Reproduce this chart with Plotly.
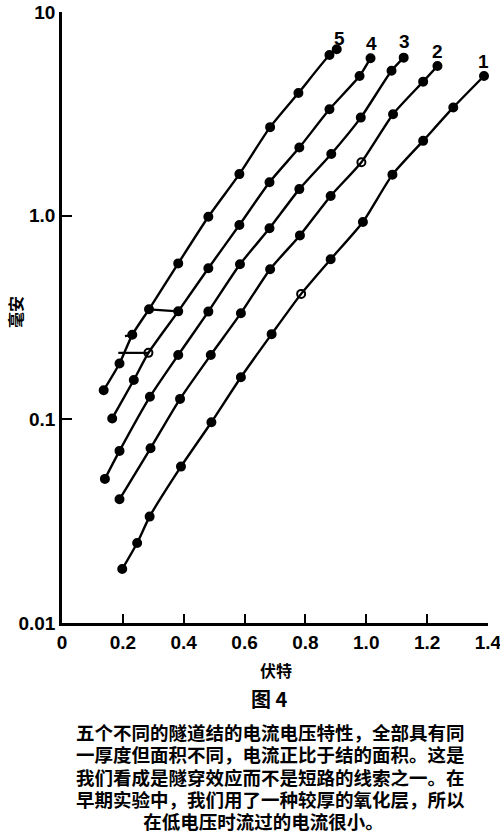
import math
import plotly.graph_objects as go

# ---- data (volts, milliamps) ----
v1 = [0.198, 0.247, 0.288, 0.391, 0.491, 0.588, 0.689, 0.786, 0.883, 0.989, 1.086, 1.187, 1.286, 1.387]
i1 = [0.0184, 0.0247, 0.0333, 0.0586, 0.0968, 0.161, 0.262, 0.413, 0.611, 0.931, 1.59, 2.33, 3.40, 4.85]

v2 = [0.189, 0.291, 0.388, 0.489, 0.588, 0.684, 0.782, 0.883, 0.984, 1.088, 1.187, 1.234]
i2 = [0.0405, 0.0721, 0.126, 0.207, 0.332, 0.546, 0.80, 1.25, 1.83, 3.15, 4.55, 5.43]

v3 = [0.141, 0.189, 0.289, 0.382, 0.481, 0.585, 0.682, 0.780, 0.885, 0.982, 1.083, 1.123]
i3 = [0.0510, 0.070, 0.129, 0.207, 0.338, 0.577, 0.867, 1.35, 2.01, 3.03, 5.15, 5.97]

v4 = [0.165, 0.236, 0.284, 0.382, 0.481, 0.583, 0.682, 0.780, 0.879, 0.978, 1.014]
i4 = [0.101, 0.156, 0.212, 0.339, 0.552, 0.900, 1.46, 2.16, 3.33, 4.85, 5.93]

v5 = [0.137, 0.189, 0.231, 0.286, 0.382, 0.481, 0.583, 0.684, 0.777, 0.879, 0.903]
i5 = [0.139, 0.188, 0.260, 0.347, 0.583, 0.988, 1.60, 2.72, 4.00, 6.15, 6.56]

curve_names = ["1", "2", "3", "4", "5"]
open_points = {"1": [7], "2": [8], "4": [2]}   # indices drawn as open circles

# small hand-drawn leader strokes in the original (volts, mA)
leader_v = [[0.286, 0.382], [0.185, 0.284], [0.207, 0.231]]
leader_i = [[0.347, 0.339], [0.212, 0.212], [0.256, 0.260]]

x_ticks = [0, 0.2, 0.4, 0.6, 0.8, 1.0, 1.2, 1.4]
x_tick_text = ["0", "0.2", "0.4", "0.6", "0.8", "1.0", "1.2", "1.4"]
y_ticks = [0.01, 0.1, 1, 10]
y_tick_text = ["0.01", "0.1", "1.0", "10"]

x_title = "伏特"
y_title = "毫安"
fig_label = "图 4"
caption_lines = [
    "五个不同的隧道结的电流电压特性，全部具有同",
    "一厚度但面积不同，电流正比于结的面积。这是",
    "我们看成是隧穿效应而不是短路的线索之一。在",
    "早期实验中，我们用了一种较厚的氧化层，所以",
    "在低电压时流过的电流很小。",
]

# ---- layout geometry ----
W, H = 500, 840
L, R, T, B = 62, 12, 12, 217
PW, PH = W - L - R, H - T - B

def paper_x(px):
    return (px - L) / PW

def paper_y(py):
    return (H - B - py) / PH

NUM_FONT = "Liberation Sans Narrow, Arial Narrow, Liberation Sans, Arial"
CJK_FONT = "Noto Sans CJK SC"

fig = go.Figure()

series = [(v1, i1), (v2, i2), (v3, i3), (v4, i4), (v5, i5)]
for name, (vv, ii) in zip(curve_names, series):
    symbols = ["circle-open" if k in open_points.get(name, []) else "circle" for k in range(len(vv))]
    fig.add_trace(go.Scatter(
        x=vv, y=ii, mode="lines+markers", name=name,
        line=dict(color="black", width=2.4, shape="spline", smoothing=0.6),
        marker=dict(color="black", size=8, symbol=symbols, line=dict(color="black", width=2)),
        showlegend=False, hoverinfo="skip", cliponaxis=False,
    ))

for lv, li in zip(leader_v, leader_i):
    fig.add_trace(go.Scatter(
        x=lv, y=li, mode="lines", line=dict(color="black", width=2.2),
        showlegend=False, hoverinfo="skip",
    ))

# curve numbers at the upper ends (log axis: annotation y in log10 units)
label_shift = {"1": (-1, 15), "2": (0, 15), "3": (1, 16), "4": (1, 15), "5": (3, 11)}
for name, (vv, ii) in zip(curve_names, series):
    dx, dy = label_shift[name]
    fig.add_annotation(
        x=vv[-1], y=math.log10(ii[-1]), xref="x", yref="y", text="<b>%s</b>" % name,
        showarrow=False, xshift=dx, yshift=dy, xanchor="center", yanchor="middle",
        font=dict(family=NUM_FONT, size=19, color="black"),
    )

def add_text(px, py, txt, size, angle=0):
    fig.add_annotation(
        x=paper_x(px), y=paper_y(py), xref="paper", yref="paper",
        text=txt, showarrow=False, textangle=angle,
        xanchor="center", yanchor="middle", align="center",
        font=dict(family=CJK_FONT, size=size, color="#000000"),
    )

add_text(276, 670, "<b>%s</b>" % x_title, 16)
add_text(15, 312, "<b>%s</b>" % y_title, 16, angle=-90)
add_text(269, 698, "<b>%s</b>" % fig_label, 20)

# caption as one block: line pitch from base size (1.3em ≈ 22.3px), glyphs at 18.5px
line_pitch = 22.3
glyph_size = 18.5
base_size = line_pitch / 1.3
padded = list(caption_lines)
padded[-1] = padded[-1] + "\u3000\u00a0"   # shift the short last line left as in the print
caption_html = "<br>".join(
    '<span style="font-size:%.1fpx"><b>%s</b></span>' % (glyph_size, t) for t in padded
)
add_text(270, 732 + 2 * line_pitch, caption_html, base_size)

fig.update_layout(
    width=W, height=H,
    margin=dict(l=L, r=R, t=T, b=B),
    paper_bgcolor="white", plot_bgcolor="white",
    xaxis=dict(
        range=[0, 1.4001], tickvals=x_ticks, ticktext=x_tick_text,
        ticks="inside", ticklen=9, tickwidth=2, tickcolor="black",
        showline=True, linewidth=2.5, linecolor="black",
        showgrid=False, zeroline=False, automargin=False,
        ticklabeloverflow="allow",
        tickfont=dict(family=NUM_FONT, size=19, color="black", weight="bold"),
    ),
    yaxis=dict(
        type="log", range=[-2, 1], tickvals=y_ticks, ticktext=y_tick_text,
        ticks="inside", ticklen=10, tickwidth=2, tickcolor="black",
        showline=True, linewidth=2.5, linecolor="black",
        showgrid=False, zeroline=False, automargin=False,
        ticklabeloverflow="allow",
        tickfont=dict(family=NUM_FONT, size=19, color="black", weight="bold"),
    ),
)

fig.write_html(
    "out.html",
    config={"displayModeBar": False},
    post_script="document.body.style.margin='0px';document.body.style.overflow='hidden';",
)
